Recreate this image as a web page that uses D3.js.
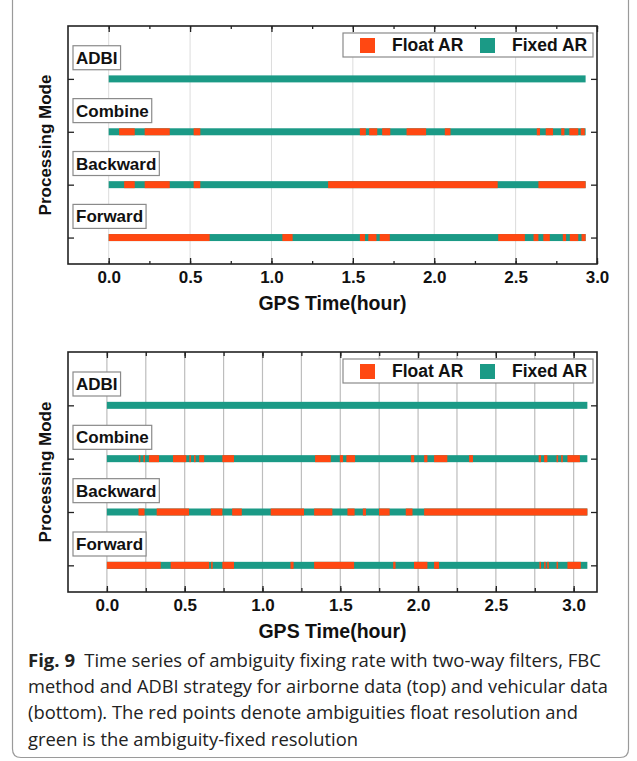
<!DOCTYPE html>
<html><head><meta charset="utf-8">
<script src="https://cdn.jsdelivr.net/npm/d3@7"></script>
<style>
html,body{margin:0;padding:0;background:#fff;}
svg{display:block;}
</style></head><body>
<svg id="fig" width="637" height="761"></svg>
<script>
// Processing modes, bottom row first
const modes = ["Forward", "Backward", "Combine", "ADBI"];
const seriesNames = ["Float AR", "Fixed AR"];
const floatColor = "#ff4812";
const fixedColor = "#1b9a86";
const hourTicks = [0, 0.5, 1.0, 1.5, 2.0, 2.5, 3.0];

// Airborne data: session length (hours) and float-solution intervals [start, end]
const airEnd = 2.93;
const airAdbiFloat = [];
const airCombineFloat = [[0.064,0.16],[0.221,0.375],[0.522,0.563],[1.543,1.58],[1.60,1.65],[1.68,1.73],[1.83,1.95],[2.065,2.10],[2.63,2.65],[2.685,2.73],[2.78,2.80],[2.83,2.885],[2.90,2.925]];
const airBackwardFloat = [[0.095,0.16],[0.221,0.375],[0.522,0.563],[1.348,2.39],[2.64,2.93]];
const airForwardFloat = [[0,0.62],[1.067,1.13],[1.543,1.575],[1.595,1.645],[1.665,1.727],[2.393,2.557],[2.61,2.64],[2.67,2.71],[2.79,2.81],[2.833,2.885],[2.905,2.93]];

// Vehicular data
const vehEnd = 3.088;
const vehAdbiFloat = [];
const vehCombineFloat = [[0.205,0.215],[0.235,0.245],[0.27,0.335],[0.425,0.51],[0.53,0.54],[0.56,0.57],[0.593,0.625],[0.742,0.817],[1.338,1.439],[1.497,1.518],[1.539,1.595],[1.955,1.975],[2.039,2.06],[2.103,2.188],[2.328,2.353],[2.775,2.79],[2.81,2.831],[2.89,2.90],[2.92,2.93],[2.96,3.04]];
const vehBackwardFloat = [[0.203,0.242],[0.32,0.528],[0.668,0.742],[0.805,0.867],[1.053,1.267],[1.332,1.449],[1.546,1.592],[1.645,1.665],[1.749,1.817],[1.921,1.964],[2.039,3.088]];
const vehForwardFloat = [[0,0.346],[0.41,0.657],[0.67,0.68],[0.742,0.817],[1.18,1.2],[1.332,1.589],[1.84,1.855],[1.974,2.06],[2.103,2.135],[2.78,2.79],[2.81,2.82],[2.83,2.84],[2.89,2.90],[2.96,3.046]];

const captionBold = "Fig. 9";
const captionLines = [
  "Time series of ambiguity fixing rate with two-way filters, FBC",
  "method and ADBI strategy for airborne data (top) and vehicular data",
  "(bottom). The red points denote ambiguities float resolution and",
  "green is the ambiguity-fixed resolution"
];
// right end of each caption line
const captionEnds = [601, 608, 578, 358];

const svg = d3.select("#fig");
const FONT = "'Liberation Sans', Arial, Helvetica, sans-serif";

// Figure frame with rounded bottom corners
svg.append("path")
  .attr("d", "M12.5,-4 V749 Q12.5,757.5 21,757.5 H620 Q628.5,757.5 628.5,749 V-4")
  .attr("fill", "none").attr("stroke", "#9a9a9a").attr("stroke-width", 1.2);

function drawPanel(cfg) {
  const left = 68, right = 597;
  const g = svg.append("g");
  const x = d3.scaleLinear().domain(cfg.xDomain).range([left, right]);
  const y = d3.scaleLinear().domain([0.5, 5]).range([cfg.bottom, cfg.top]);

  // vertical grid
  g.append("g").selectAll("line").data(cfg.grid).join("line")
    .attr("x1", d => x(d)).attr("x2", d => x(d))
    .attr("y1", cfg.top).attr("y2", cfg.bottom)
    .attr("stroke", cfg.gridColor).attr("stroke-width", cfg.gridWidth);

  // status bars: fixed baseline with float intervals on top
  const floats = [cfg.forward, cfg.backward, cfg.combine, cfg.adbi];
  const rows = g.append("g").selectAll("g").data(modes).join("g");
  rows.append("rect")
    .attr("x", x(0)).attr("width", x(cfg.end) - x(0))
    .attr("y", (d, i) => y(i + 1) - 3.5).attr("height", 7)
    .attr("fill", fixedColor);
  rows.each(function(d, i) {
    d3.select(this).selectAll("rect.fl").data(floats[i]).join("rect")
      .attr("class", "fl")
      .attr("x", s => x(s[0])).attr("width", s => Math.max(0.8, x(s[1]) - x(s[0])))
      .attr("y", y(i + 1) - 3.5).attr("height", 7)
      .attr("fill", floatColor);
  });

  // axes with inward ticks
  const minor = d3.range(0, cfg.xDomain[1] + 0.001, 0.25);
  const axB = g.append("g").attr("transform", `translate(0,${cfg.bottom})`)
    .call(d3.axisBottom(x).tickValues(minor).tickSize(-cfg.minorLen).tickFormat(""));
  const axBM = g.append("g").attr("transform", `translate(0,${cfg.bottom})`)
    .call(d3.axisBottom(x).tickValues(hourTicks).tickSize(-6).tickPadding(7).tickFormat(d3.format(".1f")));
  const axT = g.append("g").attr("transform", `translate(0,${cfg.top})`)
    .call(d3.axisTop(x).tickValues(minor).tickSize(-cfg.minorLen).tickFormat(""));
  const axTM = g.append("g").attr("transform", `translate(0,${cfg.top})`)
    .call(d3.axisTop(x).tickValues(hourTicks).tickSize(-6).tickFormat(""));
  const axL = g.append("g").attr("transform", `translate(${left},0)`)
    .call(d3.axisLeft(y).tickValues([1, 2, 3, 4]).tickSize(-6).tickFormat(""));
  const axR = g.append("g").attr("transform", `translate(${right},0)`)
    .call(d3.axisRight(y).tickValues([1, 2, 3, 4]).tickSize(-6).tickFormat(""));
  [axB, axBM, axT, axTM, axL, axR].forEach(a => {
    a.select(".domain").remove();
    a.selectAll(".tick line").attr("stroke", "#222").attr("stroke-width", 1.3);
  });
  axBM.selectAll(".tick text")
    .attr("font-family", FONT).attr("font-weight", "bold").attr("font-size", 17).attr("fill", "#111");

  // plot frame
  g.append("rect").attr("x", left).attr("y", cfg.top)
    .attr("width", right - left).attr("height", cfg.bottom - cfg.top)
    .attr("fill", "none").attr("stroke", "#222").attr("stroke-width", 1.6);

  // mode labels in boxes
  modes.forEach((m, i) => {
    const cy = y(i + 1.4);
    const lg = g.append("g");
    const box = lg.append("rect").attr("x", 73).attr("y", cy - 12).attr("height", 24)
      .attr("fill", "#fff").attr("stroke", "#8a8a8a").attr("stroke-width", 1.2);
    const t = lg.append("text").attr("x", 76).attr("y", cy + 6)
      .attr("font-family", FONT).attr("font-weight", "bold").attr("font-size", 17)
      .attr("fill", "#111").text(m);
    box.attr("width", t.node().getComputedTextLength() + 6);
  });

  // legend
  const lgY = cfg.top + 7;
  const leg = g.append("g");
  leg.append("rect").attr("x", 343).attr("y", lgY).attr("width", 250).attr("height", 24)
    .attr("fill", "#fff").attr("stroke", "#8a8a8a").attr("stroke-width", 1.2);
  const items = [[360, 392, floatColor], [480, 512, fixedColor]];
  items.forEach((it, k) => {
    leg.append("rect").attr("x", it[0]).attr("y", lgY + 5).attr("width", 15).attr("height", 15).attr("fill", it[2]);
    leg.append("text").attr("x", it[1]).attr("y", lgY + 18)
      .attr("font-family", FONT).attr("font-weight", "bold").attr("font-size", 17.5)
      .attr("fill", "#111").text(seriesNames[k]);
  });

  // axis titles
  g.append("text").attr("x", (left + right) / 2).attr("y", cfg.bottom + 46)
    .attr("text-anchor", "middle").attr("font-family", FONT).attr("font-weight", "bold")
    .attr("font-size", 19.5).attr("fill", "#111").text("GPS Time(hour)");
  g.append("text").attr("transform", `translate(51,${(cfg.top + cfg.bottom) / 2}) rotate(-90)`)
    .attr("text-anchor", "middle").attr("font-family", FONT).attr("font-weight", "bold")
    .attr("font-size", 17).attr("fill", "#111").text("Processing Mode");
}

drawPanel({
  top: 26, bottom: 264, xDomain: [-0.25, 3.0], end: airEnd,
  grid: [0, 0.5, 1.0, 1.5, 2.0, 2.5], gridColor: "#dcdcdc", gridWidth: 1, minorLen: 3,
  adbi: airAdbiFloat, combine: airCombineFloat, backward: airBackwardFloat, forward: airForwardFloat
});
drawPanel({
  top: 352, bottom: 592, xDomain: [-0.25, 3.15], end: vehEnd,
  grid: d3.range(0, 3.001, 0.25), gridColor: "#bdbdbd", gridWidth: 1.2, minorLen: 4,
  adbi: vehAdbiFloat, combine: vehCombineFloat, backward: vehBackwardFloat, forward: vehForwardFloat
});

// caption: a compact humanist face, each line fitted to its measured width
const CAP = "'Open Sans', 'Noto Sans', sans-serif";
const cap = svg.append("g");
const lineYs = [667, 693, 719, 746];
captionLines.forEach((ln, i) => {
  const t = cap.append("text").attr("x", 28).attr("y", lineYs[i])
    .attr("font-family", CAP).attr("font-size", 18.5).attr("fill", "#222")
    .attr("textLength", captionEnds[i] - 28).attr("lengthAdjust", "spacingAndGlyphs");
  if (i === 0) {
    t.append("tspan").attr("font-weight", "bold").text(captionBold);
    t.append("tspan").text("\u2002" + ln);
  } else {
    t.text(ln);
  }
});
</script>
</body></html>
